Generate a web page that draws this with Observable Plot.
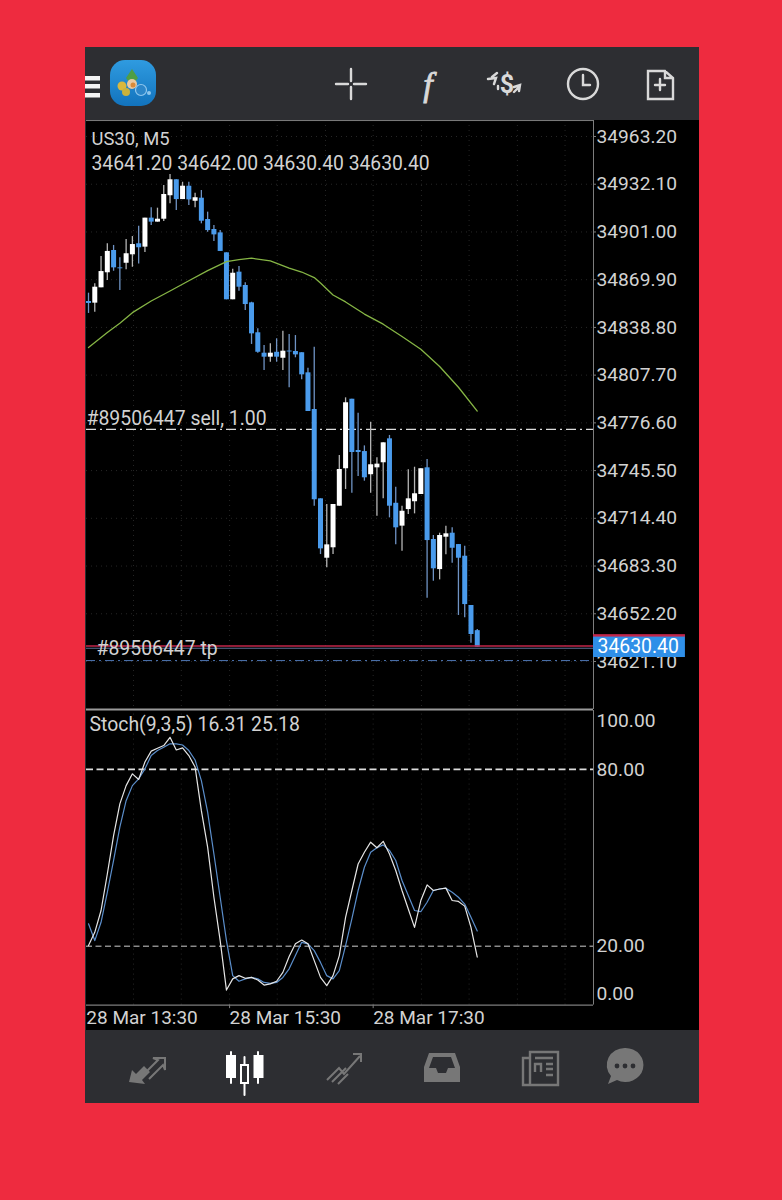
<!DOCTYPE html>
<html><head><meta charset="utf-8">
<script src="https://cdn.jsdelivr.net/npm/d3@7"></script>
<script src="https://cdn.jsdelivr.net/npm/@observablehq/plot@0.6"></script>
<style>
html,body{margin:0;padding:0;background:#ee2b3f;width:782px;height:1200px;overflow:hidden}
#phone{position:absolute;left:85px;top:47px;width:614px;height:1056px;background:#2d2e32}
#black{position:absolute;left:86px;top:120px;width:613px;height:910px;background:#000}
#icons{position:absolute;left:0;top:0}
#price,#stoch{position:absolute;left:0}
#price{top:120px}#stoch{top:708px}
svg{font-family:Roboto,sans-serif;background:transparent!important}
</style></head><body>
<div id="phone"></div><div id="black"></div>
<svg id="icons" width="782" height="1200" viewBox="0 0 782 1200">
<defs><linearGradient id="lg" x1="0" y1="0" x2="0" y2="1"><stop offset="0" stop-color="#2f9be0"/><stop offset="1" stop-color="#1273bd"/></linearGradient></defs>
<g fill="#f4f4f4"><rect x="85" y="76" width="15" height="4.5"/><rect x="85" y="84" width="15" height="4.5"/><rect x="85" y="93" width="15" height="4.5"/></g>
<rect x="110" y="60" width="46" height="46" rx="15" fill="url(#lg)"/>
<path d="M132 69l6 9-3 4h-6l-3-4z" fill="#4f9e45"/><circle cx="122" cy="86" r="4.5" fill="#d9b83d"/><circle cx="126" cy="92" r="4" fill="#c9b23c"/><circle cx="132" cy="84" r="5" fill="#e9c9a0"/><circle cx="133" cy="85" r="2.5" fill="#d98a3a"/><circle cx="141" cy="90" r="5.5" fill="#2c86c9" stroke="#8fc7ee" stroke-width="1.2"/><circle cx="149" cy="93" r="2" fill="#8fc7ee"/>
<g stroke="#d9d9d9" stroke-width="2.4" fill="none" stroke-linecap="round">
<path d="M336 84h12M354 84h12M351 69v12M351 87v12"/>
<circle cx="583" cy="84" r="15"/><path d="M583 75v10h7"/>
<path d="M648 71h17l8 7v21h-25zM665 71v7h8M660 79v11M655 85h10"/>
<path d="M497 73l-5 4M488 79l8-1-2 6M498 86l0 3M514 92l5-5M514 87l6-2-1 6"/>
</g>
<text x="428" y="96" font-family="Liberation Serif,serif" font-style="italic" font-size="34" fill="#d9d9d9" stroke="#d9d9d9" stroke-width="0.8" text-anchor="middle">f</text>
<text x="507" y="93" font-family="Roboto" font-weight="700" font-size="25" fill="#d9d9d9" text-anchor="middle">$</text>
<g fill="#777" stroke="#777">
<path d="M129 1082l3-12 4 4 8-8 6 6-8 8 3 4z" stroke="none"/>
<path d="M146 1072l12-12-5-2h12v12l-2-5-14 14" fill="none" stroke-width="2"/>
<path d="M327 1080l12-12 5 6 16-18M353 1054h8v8M332 1082l14-14M338 1084l10-10" fill="none" stroke-width="2"/>
<path d="M429 1053h26l5 14v15h-36v-15zM429 1068h7l2 5h8l2-5h7l-4-11h-18z" stroke="none" fill-rule="evenodd"/>
<path d="M530 1052h28v33h-28zM530 1058h-7v27h7M535 1058h18M535 1072v-8h6v8M546 1064h7M546 1069h7M546 1075h7" fill="none" stroke-width="2.4"/>
<path d="M625 1048a18 17 0 1 1-8 32l-9 4 3-8a18 17 0 0 1 14-28z" stroke="none"/>
</g>
<g fill="#2d2e32"><circle cx="617" cy="1066" r="2.4"/><circle cx="625" cy="1066" r="2.4"/><circle cx="633" cy="1066" r="2.4"/></g>
<g fill="#fff" stroke="#fff" stroke-width="2" stroke-linecap="round">
<path d="M231 1052v31M258 1052v31M244.500 1057v38" fill="none"/>
<rect x="227" y="1056" width="8" height="21"/><rect x="254.500" y="1056" width="8" height="21"/>
<rect x="241" y="1065" width="7" height="18" fill="#2d2e32"/>
</g>
</svg>
<div id="price"></div><div id="stoch"></div>
<script>
const opens=[34855.7,34854.6,34864.6,34874.4,34888.9,34877.6,34880.6,34886.1,34893.3,34891.1,34910.0,34907.4,34909.3,34924.6,34935.0,34922.1,34930.8,34921.0,34923.0,34909.1,34902.6,34900.4,34887.4,34856.8,34874.8,34866.1,34854.8,34835.3,34822.0,34819.4,34822.6,34818.7,34823.4,34823.1,34822.3,34809.2,34785.3,34727.1,34688.4,34695.2,34722.3,34746.7,34792.0,34758.6,34757.9,34742.8,34747.3,34750.6,34766.2,34724.2,34709.3,34720.1,34725.2,34729.9,34747.3,34700.6,34681.0,34702.1,34704.7,34697.3,34689.7,34657.6,34641.2];
const highs=[34861.1,34867.2,34885.0,34893.3,34892.2,34884.2,34896.1,34898.0,34904.7,34910.0,34916.7,34916.5,34931.3,34938.4,34935.0,34933.4,34933.4,34926.3,34928.0,34913.9,34905.2,34901.9,34887.4,34876.7,34878.5,34867.9,34855.2,34837.9,34827.0,34828.1,34831.4,34836.3,34834.2,34833.5,34822.3,34812.2,34825.9,34727.1,34723.4,34723.4,34755.3,34792.9,34792.0,34782.9,34761.6,34777.0,34753.8,34763.6,34768.4,34734.7,34722.3,34746.0,34747.7,34746.7,34752.7,34703.2,34704.7,34709.3,34708.2,34697.3,34696.2,34657.6,34642.0];
const lows=[34847.9,34848.7,34864.6,34869.4,34875.4,34862.8,34876.3,34878.0,34880.2,34887.6,34905.2,34907.4,34907.8,34919.3,34915.0,34922.1,34918.2,34916.7,34906.3,34900.8,34894.8,34888.3,34856.8,34856.8,34862.4,34849.8,34827.7,34822.0,34810.7,34816.1,34816.1,34810.7,34799.4,34819.0,34804.7,34784.0,34722.3,34690.8,34682.2,34690.8,34722.3,34733.2,34730.8,34741.6,34738.6,34730.8,34715.8,34727.1,34714.7,34697.1,34693.0,34716.9,34717.3,34729.9,34662.3,34673.4,34674.3,34690.6,34685.2,34651.1,34649.6,34633.0,34630.4];
const closes=[34854.4,34865.0,34875.2,34888.3,34877.6,34877.0,34886.8,34892.8,34890.7,34910.0,34907.4,34909.3,34925.4,34935.0,34922.1,34930.8,34921.9,34923.3,34908.0,34901.9,34899.1,34888.3,34856.8,34874.1,34865.0,34853.7,34834.6,34822.6,34819.4,34822.0,34819.4,34823.3,34822.8,34820.9,34807.9,34784.0,34726.5,34694.5,34697.1,34723.4,34746.2,34789.7,34757.3,34757.3,34740.8,34749.3,34749.7,34763.6,34722.3,34708.2,34719.0,34727.1,34730.4,34746.7,34699.9,34681.5,34703.2,34704.3,34694.9,34688.4,34658.2,34638.7,34630.4];
const maIndex=[0,3,5,7,10,13,16,19,22,24,26,29,32,34,36,37,39,41,44,47,50,53,56,59,62];
const maValues=[34825.7,34835.5,34841.5,34848.4,34856.0,34862.5,34869.2,34875.8,34881.7,34883.0,34883.9,34882.1,34877.5,34874.9,34871.3,34867.7,34859.9,34855.4,34847.5,34840.9,34832.9,34824.6,34813.3,34799.8,34784.3];
const stochMain=[20.2,24.7,32.1,44.5,57.5,68.3,74.5,78.5,76.6,82.5,86.2,87.2,88.1,90.9,86.6,87.3,84.7,80.8,66.0,53.6,36.6,21.9,5.1,8.9,10.0,9.1,9.4,8.5,6.8,7.2,8.1,11.1,16.5,20.8,22.1,20.8,15.1,9.4,6.6,10.0,16.8,29.8,38.9,47.9,51.9,55.3,53.4,55.6,51.3,45.7,38.9,32.6,26.4,35.5,40.8,38.9,39.4,39.7,35.5,35.2,33.6,26.4,16.31];
const stochSignal=[27.6,21.9,28.1,38.3,49.1,60.4,69.4,74.5,76.8,80.2,84.7,86.4,87.5,88.7,88.7,88.3,86.4,83.2,76.2,65.5,51.3,36.6,21.9,10.0,8.1,8.9,9.4,8.9,7.7,7.4,7.7,9.4,12.3,16.8,21.3,20.8,18.5,14.5,10.0,8.9,11.7,20.2,29.3,38.9,46.8,51.9,53.4,54.4,52.5,49.1,42.3,37.2,32.1,31.7,34.9,38.9,39.4,39.7,38.3,36.6,34.3,29.8,25.18];
const priceTicks=[34963.20,34932.10,34901.00,34869.90,34838.80,34807.70,34776.60,34745.50,34714.40,34683.30,34652.20,34621.10];
const stochMidTicks=[80,20];
const gridIndex=[7.18,14.8,22.5,30.1,37.8,45.4,53.1,60.7,68.4,76];
const timeIndex=[-0.35,22.5,45.4];
const timeLabels=["28 Mar 13:30","28 Mar 15:30","28 Mar 17:30"];
const symbol="US30, M5";
const ohlcText="34641.20 34642.00 34630.40 34630.40";
const stochText="Stoch(9,3,5) 16.31 25.18";
const sellPrice=34772.3, tpPrice=34631.2, bidPrice=34630.4, askPrice=34621.7;
const sellText="#89506447 sell, 1.00", tpText="#89506447 tp";

const candles=opens.map((o,i)=>({i,o,h:highs[i],l:lows[i],c:closes[i],up:closes[i]>o}));
const xDomain=[-0.32,80.54];
const WHITE="#ffffff",BLUE="#4a9bec",GRID="#262626",LAB="#d2d2d2",AX="#7d7d7d";
const base={width:782,marginLeft:86,marginRight:189,marginTop:0,marginBottom:0,style:{background:"transparent",overflow:"visible"},
  x:{type:"linear",domain:xDomain,axis:null}};
const rowText=(t,dx,dy,size,fill)=>Plot.text([t],{frameAnchor:"top-left",dx,dy,fontSize:size,fill,lineAnchor:"middle",textAnchor:"start"});

const price=Plot.plot({...base,height:589,
  y:{domain:[34621.10,34963.20],range:[541,16],axis:null},
  marks:[
    Plot.ruleX(gridIndex,{stroke:GRID,strokeDasharray:"1,4"}),
    Plot.ruleY(priceTicks,{stroke:GRID,strokeDasharray:"1,4"}),
    Plot.axisY({anchor:"right",ticks:priceTicks,tickFormat:d=>d.toFixed(2),tickSize:2,tickPadding:1,fontSize:19.2,color:LAB,label:null,stroke:AX}),
    Plot.ruleX([xDomain[1]],{stroke:AX}),
    Plot.ruleY([sellPrice],{stroke:"#dcdcdc",strokeDasharray:"10,4,2,4",strokeWidth:1.2}),
    Plot.ruleY([askPrice],{stroke:"#4f77b5",strokeDasharray:"9,4,2,4",strokeWidth:1}),
    Plot.ruleX(candles,{x:"i",y1:"l",y2:"h",stroke:d=>d.up?"#b5b5b5":"#6f93c4",strokeWidth:1.3}),
    Plot.ruleX(candles,{x:"i",y1:"o",y2:"c",stroke:d=>d.up?WHITE:BLUE,strokeWidth:5}),
    Plot.line(maIndex.map((x,k)=>({x,y:maValues[k]})),{x:"x",y:"y",stroke:"#86b545",strokeWidth:1.3}),
    Plot.ruleY([tpPrice],{stroke:"#c2264a",strokeWidth:1.4}),
    Plot.ruleY([bidPrice],{stroke:"#5c6f94",strokeWidth:1.2,dy:1}),
    rowText(sellText,0,298,19.4,LAB),
    rowText(tpText,10,528,19.4,LAB),
    rowText(symbol,5,19,18.4,LAB),
    rowText(ohlcText,5,43,19.3,LAB),
    Plot.rect([{}],{x1:()=>xDomain[1],x2:()=>95.2,y1:()=>34623.7,y2:()=>34638.0,fill:"#2f8fe8"}),
    Plot.rect([{}],{x1:()=>xDomain[1],x2:()=>95.2,y1:()=>34637.0,y2:()=>34638.6,fill:"#c2264a"}),
    Plot.text([bidPrice],{x:()=>xDomain[1],y:d=>d,text:d=>d.toFixed(2),dx:4,textAnchor:"start",fontSize:19.4,fill:"#fff"}),
    Plot.ruleY([34963.2+10.4],{stroke:AX,strokeWidth:1})
  ]});
document.getElementById("price").append(price);

const stoch=Plot.plot({...base,height:322,
  y:{domain:[0,100],range:[296.6,2],axis:null},
  marks:[
    Plot.ruleX(gridIndex,{y1:0,y2:100,stroke:GRID,strokeDasharray:"1,4"}),
    Plot.ruleY([100],{stroke:"#9a9a9a",strokeWidth:2,dy:-1}),
    Plot.ruleY([0],{stroke:AX,strokeWidth:1.2}),
    Plot.ruleX([xDomain[1]],{y1:0,y2:100,stroke:AX}),
    Plot.ruleY([80],{stroke:"#dcdcdc",strokeWidth:1.6,strokeDasharray:"7,3.5"}),
    Plot.ruleY([20],{stroke:"#cfcfcf",strokeWidth:1,strokeDasharray:"6,3.5"}),
    Plot.line(stochSignal,{x:(d,i)=>i,y:d=>d,stroke:"#5b8ecb",strokeWidth:1.2}),
    Plot.line(stochMain,{x:(d,i)=>i,y:d=>d,stroke:"#e6e6e6",strokeWidth:1.2}),
    Plot.text(stochMidTicks,{x:()=>xDomain[1],y:d=>d,text:d=>d.toFixed(2),dx:3,textAnchor:"start",fontSize:19.2,fill:LAB}),
    Plot.text([100],{x:()=>xDomain[1],y:d=>d,text:d=>d.toFixed(2),dx:3,dy:10,textAnchor:"start",fontSize:19.2,fill:LAB}),
    Plot.text([0],{x:()=>xDomain[1],y:d=>d,text:d=>d.toFixed(2),dx:3,dy:-11,textAnchor:"start",fontSize:19.2,fill:LAB}),
    rowText(stochText,3,16,19.4,LAB),
    Plot.ruleX(timeIndex.slice(1),{y1:0,y2:-1.2,stroke:AX}),
    Plot.text(timeLabels,{x:(d,i)=>timeIndex[i],y:()=>0,dy:12.5,textAnchor:"start",fontSize:19,fill:LAB})
  ]});
document.getElementById("stoch").append(stoch);
</script>
</body></html>
